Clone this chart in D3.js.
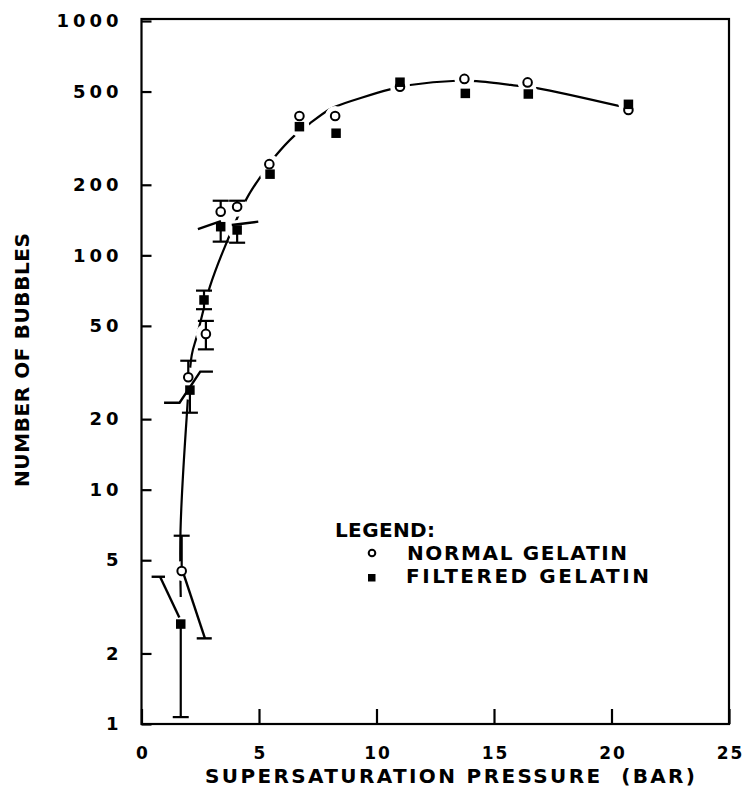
<!DOCTYPE html>
<html>
<head>
<meta charset="utf-8">
<script src="https://cdn.jsdelivr.net/npm/d3@7"></script>
<style>
  html, body { margin: 0; padding: 0; background: #fff; }
  svg { display: block; }
  text { font-family: "DejaVu Sans", sans-serif; font-weight: bold; fill: #000; }
</style>
</head>
<body>
<svg id="chart" width="745" height="796"></svg>
<script>
// Axis ticks: supersaturation pressure (bar) and number of bubbles (log)
const xTickValues = [0, 5, 10, 15, 20, 25];
const yTickValues = [1, 2, 5, 10, 20, 50, 100, 200, 500, 1000];

// Normal gelatin: pressure, bubble count and error-bar limits (null = none)
const normalP  = [1.71, 1.99, 2.74, 3.37, 4.07, 5.44, 6.72, 8.24, 11.0, 13.74, 16.43, 20.72];
const normalN  = [4.5, 30.2, 46.2, 153.6, 161.3, 245, 393, 393, 524, 566, 547, 417];
const normalLo = [null, null, 39.7, null, null, null, null, null, null, null, null, null];
const normalHi = [6.36, 35.5, 52.5, 171, 171, null, null, null, null, null, null, null];

// Filtered gelatin
const filteredP  = [1.67, 2.06, 2.66, 3.37, 4.07, 5.47, 6.72, 8.28, 11.0, 13.78, 16.46, 20.72];
const filteredN  = [2.67, 26.6, 64.5, 132.5, 128.3, 222, 354, 332, 548, 491, 488, 441];
const filteredLo = [1.07, 21.3, 58.9, 114.4, 113.2, null, null, null, null, null, null, null];
const filteredHi = [null, null, 70.7, null, null, null, null, null, null, null, null, null];

// Hand-fitted trend curve through the measurements
const fitP = [1.67, 1.66, 1.92, 2.14, 2.35, 2.91, 3.55, 4.48, 5.11, 5.68, 6.53, 7.17, 7.95, 8.23, 10.57, 11.43, 13.41, 14.26, 16.1, 16.88, 20.4];
const fitN = [3.48, 6.7, 20.2, 37.6, 45, 73.5, 109, 175, 220, 264, 326, 366, 417, 431, 511, 533, 556, 554, 528, 516, 432];

// Offset (slanted) error bars, each a polyline of [pressure, count]
const slantBars = [
  [[0.43, 4.25], [1.0, 4.25]],
  [[0.79, 4.25], [1.61, 2.85]],
  [[1.78, 4.40], [2.70, 2.32]],
  [[2.35, 2.32], [2.99, 2.32]],
  [[0.96, 23.5], [1.62, 23.5], [2.50, 31.9], [3.04, 31.9]],
  [[2.40, 129.5], [3.38, 140]],
  [[3.84, 134.7], [4.97, 139.2]]
];

const svg = d3.select("#chart");

const x = d3.scaleLinear().domain([0, 25]).range([141.5, 729]);
const y = d3.scaleLog().domain([1, 1000]).range([724, 21]);

// Plot frame
svg.append("rect")
  .attr("x", x.range()[0]).attr("y", y.range()[1] - 2)
  .attr("width", x.range()[1] - x.range()[0])
  .attr("height", y.range()[0] - y.range()[1] + 2)
  .attr("fill", "none").attr("stroke", "#000").attr("stroke-width", 2.2);

// Y axis: inward ticks, labels on the left
const yAxis = svg.append("g")
  .attr("transform", `translate(${x.range()[0]},0)`)
  .call(d3.axisLeft(y).tickValues(yTickValues).tickFormat(d3.format("d"))
    .tickSize(-10).tickPadding(19));
yAxis.select(".domain").remove();
yAxis.selectAll("line").attr("stroke", "#000").attr("stroke-width", 2.2);
yAxis.selectAll("text")
  .attr("font-family", "DejaVu Sans").attr("font-weight", "bold")
  .attr("font-size", 18).attr("letter-spacing", 4).attr("fill", "#000");

// X axis: inward ticks, labels below
const xAxis = svg.append("g")
  .attr("transform", `translate(0,${y.range()[0]})`)
  .call(d3.axisBottom(x).tickValues(xTickValues).tickFormat(d3.format("d"))
    .tickSize(-15).tickPadding(23));
xAxis.select(".domain").remove();
xAxis.selectAll("line").attr("stroke", "#000").attr("stroke-width", 2.2);
xAxis.selectAll("text")
  .attr("font-family", "DejaVu Sans").attr("font-weight", "bold")
  .attr("font-size", 17).attr("letter-spacing", 2).attr("dx", 1).attr("fill", "#000");

// Axis titles
svg.append("text")
  .attr("transform", "translate(29,360) rotate(-90)")
  .attr("text-anchor", "middle")
  .attr("font-size", 20)
  .attr("textLength", 254).attr("lengthAdjust", "spacing")
  .text("NUMBER OF BUBBLES");

svg.append("text")
  .attr("x", 450).attr("y", 783)
  .attr("text-anchor", "middle")
  .attr("font-size", 20)
  .attr("textLength", 490).attr("lengthAdjust", "spacing")
  .style("white-space", "pre")
  .text("SUPERSATURATION PRESSURE  (BAR)");

// Trend curve, broken around each marker by white halos
const fitData = fitP.map((p, i) => [p, fitN[i]]);
svg.append("path")
  .datum(fitData)
  .attr("fill", "none").attr("stroke", "#000").attr("stroke-width", 2.2)
  .attr("d", d3.line().x(d => x(d[0])).y(d => y(d[1])).curve(d3.curveCatmullRom.alpha(0.5)));

const normal = normalP.map((p, i) => ({ p, n: normalN[i], lo: normalLo[i], hi: normalHi[i] }));
const filtered = filteredP.map((p, i) => ({ p, n: filteredN[i], lo: filteredLo[i], hi: filteredHi[i] }));

svg.append("g").selectAll("circle")
  .data(normal.concat(filtered))
  .join("circle")
  .attr("cx", d => x(d.p)).attr("cy", d => y(d.n)).attr("r", 10)
  .attr("fill", "#fff");

// Offset error bars
svg.append("g").selectAll("path")
  .data(slantBars)
  .join("path")
  .attr("fill", "none").attr("stroke", "#000").attr("stroke-width", 2.4)
  .attr("d", d3.line().x(d => x(d[0])).y(d => y(d[1])));

// Vertical error bars with caps
const capHalf = 8;
function drawErrors(data) {
  const g = svg.append("g").attr("stroke", "#000").attr("stroke-width", 2.2);
  data.filter(d => d.lo !== null || d.hi !== null).forEach(d => {
    const top = d.hi !== null ? d.hi : d.n;
    const bot = d.lo !== null ? d.lo : d.n;
    g.append("line")
      .attr("x1", x(d.p)).attr("x2", x(d.p))
      .attr("y1", y(top)).attr("y2", y(bot));
    [d.hi, d.lo].filter(v => v !== null).forEach(v => {
      g.append("line")
        .attr("x1", x(d.p) - capHalf).attr("x2", x(d.p) + capHalf)
        .attr("y1", y(v)).attr("y2", y(v));
    });
  });
}
drawErrors(normal);
drawErrors(filtered);

// Markers: open circles (normal) and filled squares (filtered)
svg.append("g").selectAll("circle")
  .data(normal)
  .join("circle")
  .attr("cx", d => x(d.p)).attr("cy", d => y(d.n)).attr("r", 4.3)
  .attr("fill", "#fff").attr("stroke", "#000").attr("stroke-width", 2);

const sq = 9.5;
svg.append("g").selectAll("rect")
  .data(filtered)
  .join("rect")
  .attr("x", d => x(d.p) - sq / 2).attr("y", d => y(d.n) - sq / 2)
  .attr("width", sq).attr("height", sq)
  .attr("fill", "#000");

// Legend
const legend = svg.append("g");
legend.append("text").attr("x", 335).attr("y", 537).attr("font-size", 20)
  .attr("textLength", 100).attr("lengthAdjust", "spacing").text("LEGEND:");
legend.append("circle").attr("cx", 372).attr("cy", 553).attr("r", 3.3)
  .attr("fill", "#fff").attr("stroke", "#000").attr("stroke-width", 2);
legend.append("text").attr("x", 407).attr("y", 560).attr("font-size", 20)
  .attr("textLength", 220).attr("lengthAdjust", "spacing").text("NORMAL GELATIN");
legend.append("rect").attr("x", 368).attr("y", 574).attr("width", 7.5).attr("height", 7.5)
  .attr("fill", "#000");
legend.append("text").attr("x", 406).attr("y", 583).attr("font-size", 20)
  .attr("textLength", 243).attr("lengthAdjust", "spacing").text("FILTERED GELATIN");
</script>
</body>
</html>
